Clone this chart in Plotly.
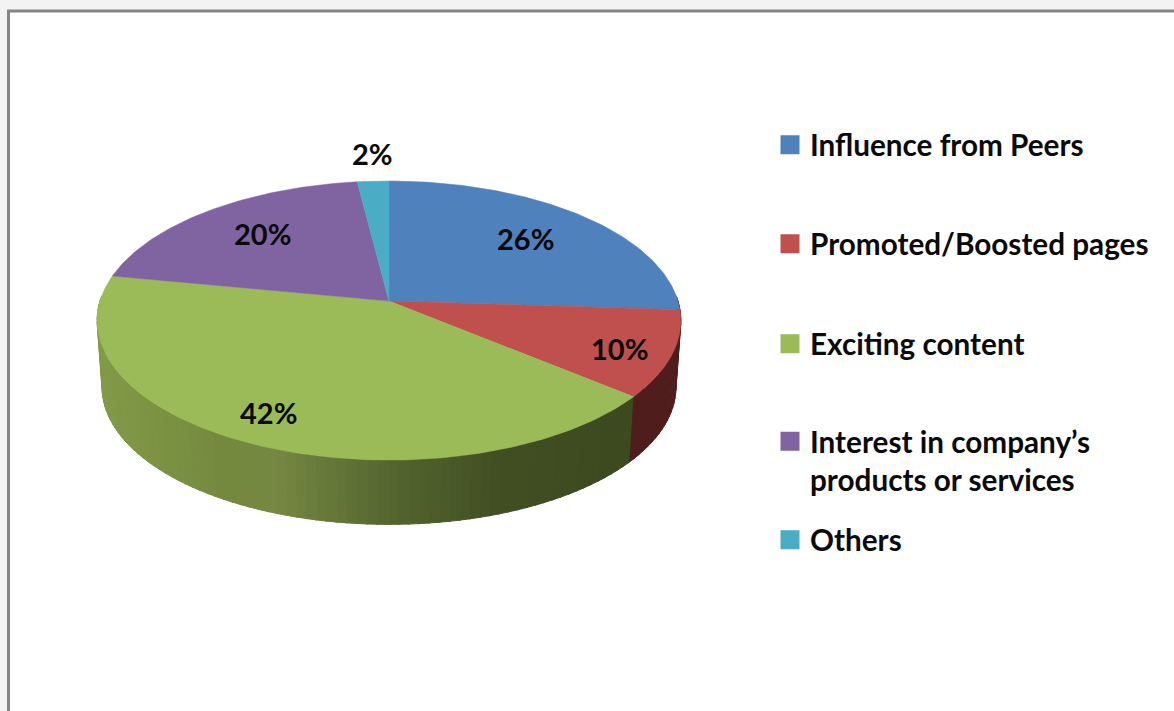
import numpy as np
import plotly.graph_objects as go

# ---- data ----
categories = ["Influence from Peers", "Promoted/Boosted pages", "Exciting content",
              "Interest in company’s<br>products or services", "Others"]
shares = [26, 10, 42, 20, 2]

# ---- style ----
colors = ["#4f81bd", "#c0504d", "#9bbb59", "#8064a2", "#4bacc6"]
side_red = "#4f1d1b"
side_stops_x = [97, 230, 275, 389, 500, 630]
side_stops_rgb = [(130, 155, 72), (116, 136, 62), (118, 136, 66), (85, 102, 48), (65, 79, 35), (61, 74, 32)]
label_pos = [(525, 238), (619, 348), (268, 412), (262, 233), (372, 153)]
legend_pos = [145, 244, 344, 461, 540]
FONT = "Lato"
W, H = 1174, 711
CX, CY = 389, 301
SX, SY, K = 289, 136.8, 0.14
SHIFT, SHRINK = 67, 0.983


def project(turn, r=1.0, lower=False):
    """Map a point of the pie disc (turn clockwise from 12 o'clock) to page pixels."""
    a = 2 * np.pi * np.asarray(turn)
    X, Y = r * np.sin(a), r * np.cos(a)
    w = 1 + K * Y
    px, py = SX * X / w, SY * Y / w
    if lower:
        return CX + SHRINK * px, CY + SHIFT - SHRINK * py
    return CX + px, CY - py


fig = go.Figure()

# side wall, drawn segment by segment so that it can carry the shading
cum = np.cumsum([0] + shares) / sum(shares)
wall = np.linspace(0.245, 0.755, 103)
for t0, t1 in zip(wall[:-1], wall[1:]):
    ts = np.linspace(t0, t1 + 0.001, 3)
    xt, yt = project(ts)
    xb, yb = project(ts[::-1], lower=True)
    xm = float(xt.mean())
    if (t0 + t1) / 2 < cum[2]:
        col = side_red
    else:
        rgb = [np.interp(xm, side_stops_x, [c[i] for c in side_stops_rgb]) for i in range(3)]
        col = "rgb(%d,%d,%d)" % tuple(rgb)
    fig.add_trace(go.Scatter(x=np.r_[xt, xb], y=np.r_[yt, yb], mode="lines", fill="toself",
                             fillcolor=col, line=dict(width=1, color=col),
                             hoverinfo="skip", showlegend=False))

# top face
for name, share, c0, c1, col in zip(categories, shares, cum[:-1], cum[1:], colors):
    ts = np.linspace(c0, c1, max(4, int(share * 4)))
    xs, ys = project(ts)
    fig.add_trace(go.Scatter(x=np.r_[CX, xs, CX], y=np.r_[CY, ys, CY], mode="lines", fill="toself",
                             fillcolor=col, line=dict(width=0.5, color=col),
                             name=name.replace("<br>", " "), hoverinfo="name", showlegend=False))

# legend entries: one legend per entry so that the uneven spacing can be kept
legends = {}
for i, (name, col, ly) in enumerate(zip(categories, colors, legend_pos)):
    key = "legend" if i == 0 else f"legend{i + 1}"
    fig.add_trace(go.Scatter(x=[None], y=[None], mode="markers", name=name, legend=key,
                             marker=dict(symbol="square", size=16, color=col,
                                         line=dict(width=3, color=col))))
    legends[key] = dict(x=770 / W, y=1 - ly / H, xanchor="left", yanchor="middle", valign="top",
                        bgcolor="rgba(0,0,0,0)", borderwidth=0, itemclick=False, itemdoubleclick=False,
                        font=dict(family=FONT, size=29.7, color="#0a0a0a", weight=700))

annotations = [dict(x=x, y=y, text=f"{v}%", showarrow=False, xref="x", yref="y",
                    font=dict(family=FONT, size=29, color="#0a0a0a", weight=700))
               for v, (x, y) in zip(shares, label_pos)]

fig.update_layout(
    width=W, height=H, margin=dict(l=0, r=0, t=0, b=0),
    paper_bgcolor="#f3f3f3", plot_bgcolor="rgba(0,0,0,0)",
    xaxis=dict(range=[0, W], visible=False, fixedrange=True),
    yaxis=dict(range=[H, 0], visible=False, fixedrange=True),
    annotations=annotations,
    shapes=[dict(type="rect", xref="x", yref="y", x0=8.5, y0=11, x1=W + 20, y1=H + 20,
                 fillcolor="white", line=dict(color="#858585", width=3), layer="below")],
    **legends,
)
fig.write_html("out.html", config=dict(displayModeBar=False),
               post_script="document.body.style.margin='0';document.documentElement.style.overflow='hidden';")
